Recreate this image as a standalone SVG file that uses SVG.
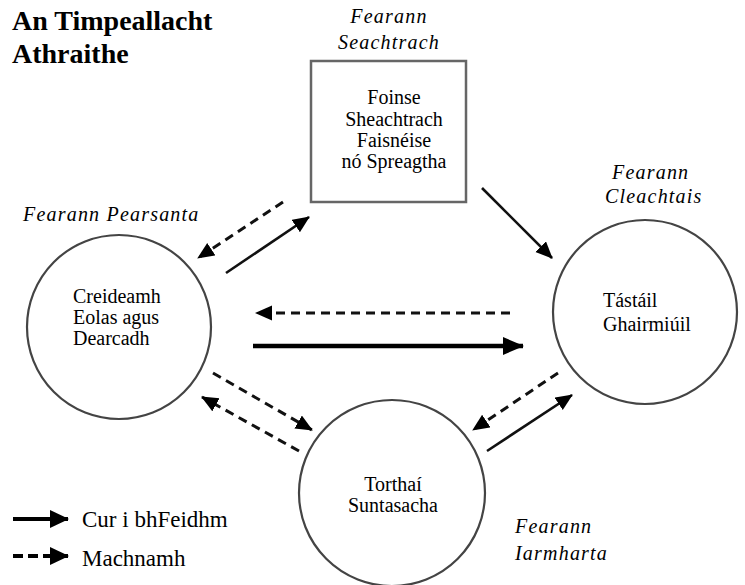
<svg xmlns="http://www.w3.org/2000/svg" width="745" height="585" viewBox="0 0 745 585">
  <style>
    .title { font-family: "Liberation Serif", "Times New Roman", serif; font-weight: bold; font-size: 28px; fill: #000; }
    .domain { font-family: "Liberation Serif", "Times New Roman", serif; font-style: italic; font-size: 20px; fill: #000; letter-spacing: 1.2px; }
    .label { font-family: "Liberation Serif", "Times New Roman", serif; font-size: 20px; fill: #000; }
    .box-label { font-family: "Liberation Serif", "Times New Roman", serif; font-size: 20px; fill: #000; text-anchor: middle; }
    .legend { font-family: "Liberation Serif", "Times New Roman", serif; font-size: 23px; fill: #000; }
    .node { fill: #fff; stroke: #444; stroke-width: 2.2; }
    .box { fill: #fff; stroke: #666; stroke-width: 2.5; }
    .solid { fill: none; stroke: #111; stroke-width: 2.6; marker-end: url(#head); }
    .bold { fill: none; stroke: #000; stroke-width: 4.5; marker-end: url(#headBig); }
    .dash { fill: none; stroke: #111; stroke-width: 3; stroke-dasharray: 9 6; marker-end: url(#head); }
    .key-solid { fill: none; stroke: #000; stroke-width: 4; marker-end: url(#headKey); }
    .key-dash { fill: none; stroke: #000; stroke-width: 4; stroke-dasharray: 10 5; marker-end: url(#headKey); }
  </style>
  <defs>
    <marker id="head" markerUnits="userSpaceOnUse" markerWidth="18" markerHeight="16" refX="16" refY="7.5" orient="auto">
      <path d="M0,0 L17,7.5 L0,15 z" fill="#000"/>
    </marker>
    <marker id="headBig" markerUnits="userSpaceOnUse" markerWidth="22" markerHeight="20" refX="20" refY="9" orient="auto">
      <path d="M0,0 L21,9 L0,18 z" fill="#000"/>
    </marker>
    <marker id="headKey" markerUnits="userSpaceOnUse" markerWidth="20" markerHeight="20" refX="18" refY="9" orient="auto">
      <path d="M0,0 L19,9 L0,18 z" fill="#000"/>
    </marker>
  </defs>

  <!-- heading -->
  <text class="title" x="12" y="30">An Timpeallacht</text>
  <text class="title" x="12" y="63">Athraithe</text>

  <!-- external source -->
  <g id="external">
    <text class="domain" x="389" y="23" text-anchor="middle">Fearann</text>
    <text class="domain" x="389" y="49" text-anchor="middle">Seachtrach</text>
    <rect class="box" x="311" y="61" width="155" height="141"/>
    <text class="box-label" x="394" y="104">Foinse</text>
    <text class="box-label" x="394" y="126">Sheachtrach</text>
    <text class="box-label" x="394" y="147">Faisnéise</text>
    <text class="box-label" x="394" y="168">nó Spreagtha</text>
  </g>

  <!-- personal domain -->
  <g id="personal">
    <text class="domain" x="23" y="221">Fearann Pearsanta</text>
    <circle class="node" cx="119" cy="327" r="92"/>
    <text class="label" x="73" y="303">Creideamh</text>
    <text class="label" x="73" y="324">Eolas agus</text>
    <text class="label" x="73" y="345">Dearcadh</text>
  </g>

  <!-- practice domain -->
  <g id="practice">
    <text class="domain" x="612" y="179">Fearann</text>
    <text class="domain" x="605" y="203">Cleachtais</text>
    <circle class="node" cx="645" cy="312" r="92"/>
    <text class="label" x="603" y="307">Tástáil</text>
    <text class="label" x="603" y="331">Ghairmiúil</text>
  </g>

  <!-- consequence domain -->
  <g id="consequence">
    <circle class="node" cx="392" cy="493" r="93"/>
    <text class="label" x="393" y="491" text-anchor="middle">Torthaí</text>
    <text class="label" x="393" y="512" text-anchor="middle">Suntasacha</text>
    <text class="domain" x="515" y="533">Fearann</text>
    <text class="domain" x="515" y="560">Iarmharta</text>
  </g>

  <!-- connectors -->
  <g id="connectors">
    <line class="solid" x1="482" y1="188" x2="552" y2="258"/>
    <line class="solid" x1="226" y1="273" x2="309" y2="217"/>
    <line class="dash" x1="283" y1="202" x2="198" y2="258"/>
    <line class="dash" x1="510" y1="313" x2="256" y2="313"/>
    <line class="bold" x1="253" y1="346" x2="523" y2="346"/>
    <line class="dash" x1="213" y1="373" x2="312" y2="430"/>
    <line class="dash" x1="299" y1="451" x2="202" y2="397"/>
    <line class="dash" x1="558" y1="373" x2="473" y2="430"/>
    <line class="solid" x1="487" y1="451" x2="572" y2="395"/>
  </g>

  <!-- legend -->
  <g id="legend">
    <line class="key-solid" x1="13" y1="519" x2="68" y2="519"/>
    <text class="legend" x="82" y="527">Cur i bhFeidhm</text>
    <line class="key-dash" x1="13" y1="556" x2="68" y2="556"/>
    <text class="legend" x="82" y="566">Machnamh</text>
  </g>
</svg>
